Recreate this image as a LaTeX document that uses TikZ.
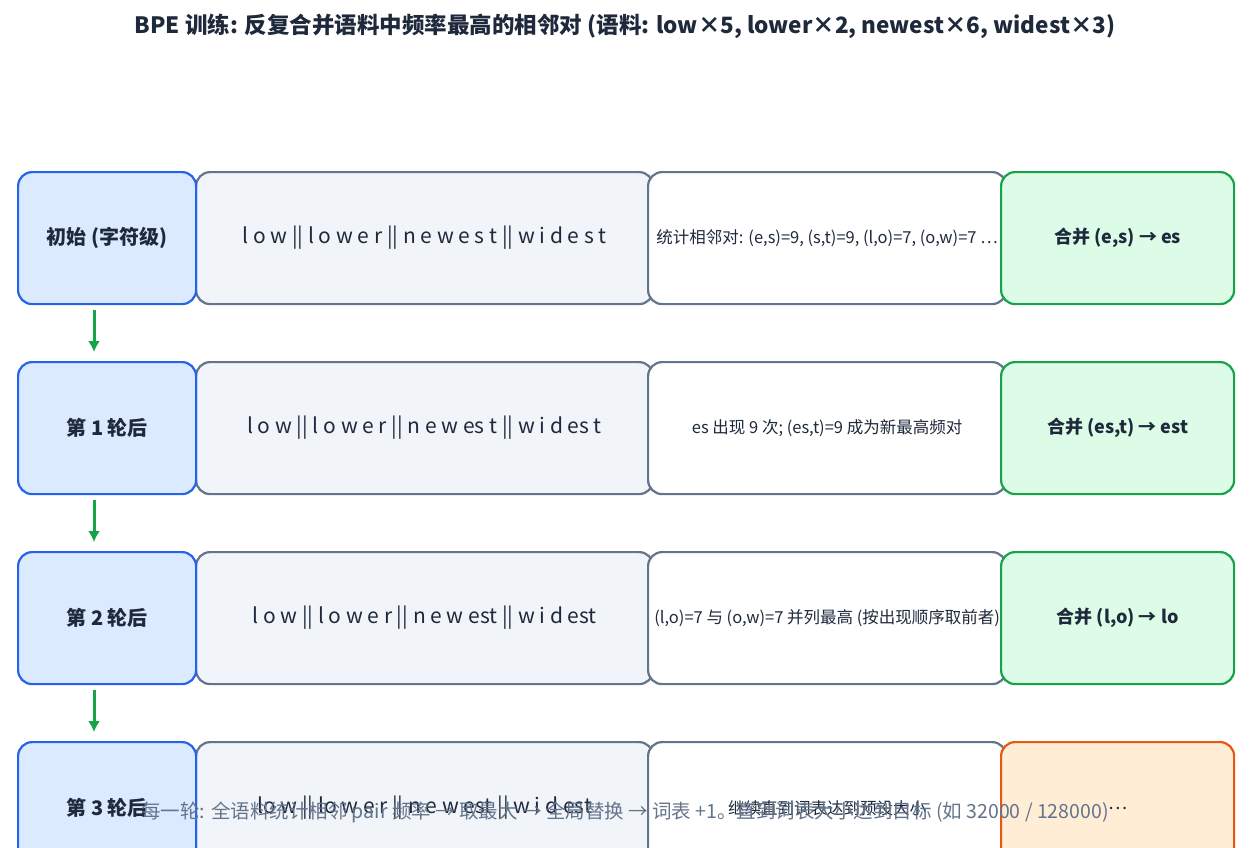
\documentclass[tikz,border=0pt]{standalone}
\usepackage{fontspec}
\usetikzlibrary{arrows.meta}
\setmainfont{Noto Sans CJK SC}
\begin{document}
\begin{tikzpicture}[x=1pt,y=-1pt,
 box/.style={draw, line width=2.2pt, rounded corners=14pt, minimum height=132pt, anchor=north west, inner sep=0pt, text=txt},
 lab/.style={box, draw=bB, fill=bF, minimum width=178pt, font=\fontsize{20}{22}\selectfont\bfseries},
 seq/.style={box, draw=gB, fill=gF, minimum width=457pt, font=\fontsize{21}{24}\selectfont},
 note/.style={box, draw=gB, fill=white, minimum width=358pt, font=\fontsize{16.5}{19}\selectfont},
 mrg/.style={box, draw=mB, fill=mF, minimum width=233pt, font=\fontsize{18}{21}\selectfont\bfseries},
 arr/.style={draw=arc, line width=3pt, -{Latex[length=11pt,width=12pt]}}]
\definecolor{txt}{HTML}{1E293B}
\definecolor{bB}{HTML}{2563EB}\definecolor{bF}{HTML}{DBEAFE}
\definecolor{gB}{HTML}{64748B}\definecolor{gF}{HTML}{F1F5F9}
\definecolor{mB}{HTML}{16A34A}\definecolor{mF}{HTML}{DCFCE7}
\definecolor{oB}{HTML}{EA580C}\definecolor{oF}{HTML}{FFEDD5}
\definecolor{arc}{HTML}{16A34A}
\useasboundingbox (0,0) rectangle (1250,847);
\clip (0,0) rectangle (1250,847);
\node[text=txt, font=\fontsize{22.5}{26}\selectfont\bfseries] (title) at (625,26) {BPE 训练: 反复合并语料中频率最高的相邻对 (语料: low×5, lower×2, newest×6, widest×3)};
% row 0
\node[seq] (s0) at (195,171) {l o w || l o w e r || n e w e s t || w i d e s t};
\node[note] (n0) at (647,171) {统计相邻对: (e,s)=9, (s,t)=9, (l,o)=7, (o,w)=7 …};
\node[mrg] (m0) at (1000,171) {合并 (e,s) → es};
\node[lab] (l0) at (17,171) {初始 (字符级)};
% row 1
\node[seq] (s1) at (195,361) {l o w || l o w e r || n e w es t || w i d es t};
\node[note] (n1) at (647,361) {es 出现 9 次; (es,t)=9 成为新最高频对};
\node[mrg] (m1) at (1000,361) {合并 (es,t) → est};
\node[lab] (l1) at (17,361) {第 1 轮后};
% row 2
\node[seq] (s2) at (195,551) {l o w || l o w e r || n e w est || w i d est};
\node[note] (n2) at (647,551) {(l,o)=7 与 (o,w)=7 并列最高 (按出现顺序取前者)};
\node[mrg] (m2) at (1000,551) {合并 (l,o) → lo};
\node[lab] (l2) at (17,551) {第 2 轮后};
% row 3
\node[seq] (s3) at (195,741) {lo w || lo w e r || n e w est || w i d est};
\node[note] (n3) at (647,741) {继续直到词表达到预设大小};
\node[mrg, draw=oB, fill=oF, font=\fontsize{18}{21}\selectfont] (m3) at (1000,741) {…};
\node[lab] (l3) at (17,741) {第 3 轮后};
\draw[arr] (94,310) -- (94,352);
\draw[arr] (94,500) -- (94,542);
\draw[arr] (94,690) -- (94,732);
\node[text=gB, font=\fontsize{19.5}{22}\selectfont] (foot) at (625,812) {每一轮: 全语料统计相邻 pair 频率 → 取最大 → 全局替换 → 词表 +1。直到词表大小达到目标 (如 32000 / 128000)};
\end{tikzpicture}
\end{document}
